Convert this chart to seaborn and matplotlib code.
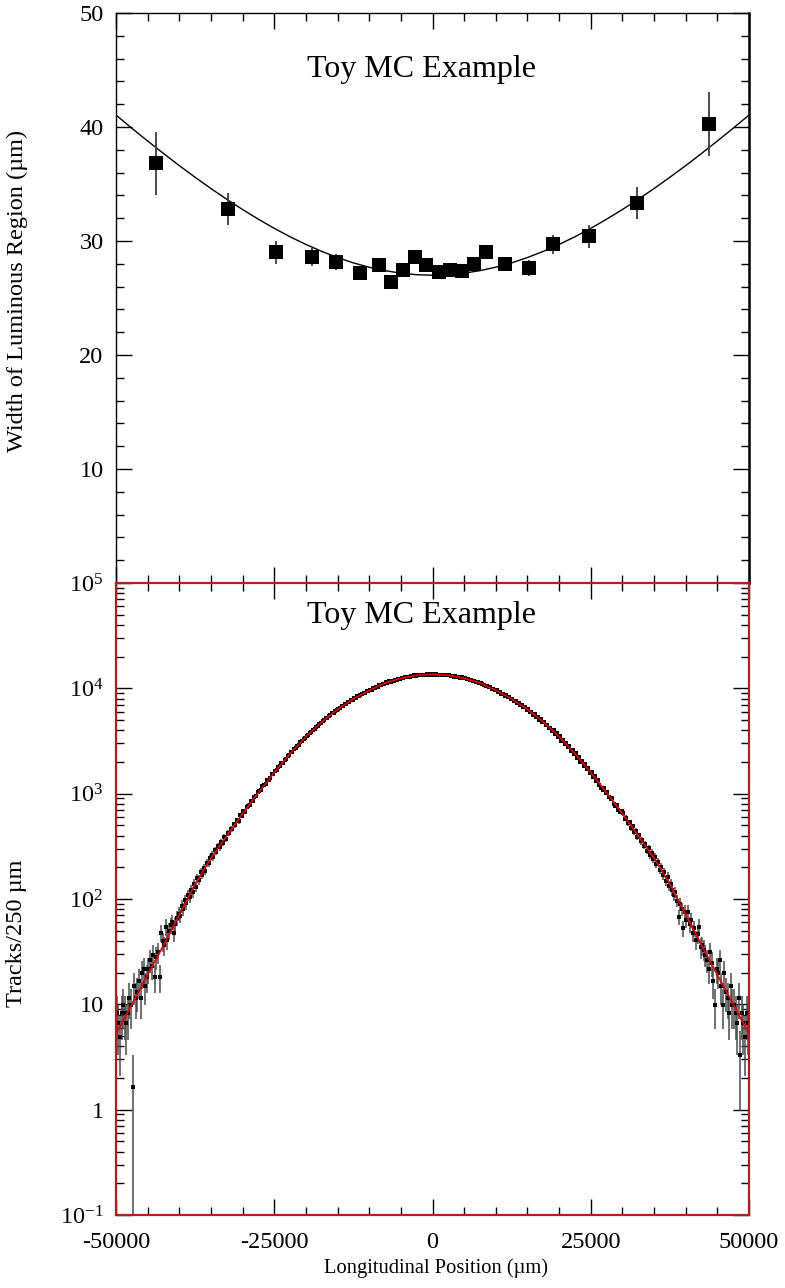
import numpy as np
import matplotlib
matplotlib.use("Agg")
import matplotlib.pyplot as plt
import seaborn as sns
from matplotlib.ticker import MultipleLocator, FixedLocator, LogLocator, NullFormatter, FuncFormatter

# ---------------- data ----------------
# width of the luminous region vs longitudinal position
width_x = [-43650, -32300, -24700, -19000, -15250, -11400, -8500, -6600, -4700, -2800, -950,
           950, 2800, 4700, 6600, 8500, 11400, 15250, 19000, 24700, 32300, 43650]
width_val = [36.8, 32.8, 29.0, 28.6, 28.2, 27.2, 27.9, 26.4, 27.5, 28.6, 27.9,
             27.3, 27.5, 27.4, 28.0, 29.0, 28.0, 27.6, 29.7, 30.4, 33.3, 40.3]
width_err = [2.8, 1.4, 1.0, 0.8, 0.7, 0.6, 0.5, 0.5, 0.5, 0.5, 0.5,
             0.5, 0.5, 0.5, 0.5, 0.5, 0.6, 0.7, 0.8, 1.0, 1.4, 2.8]

# fitted hourglass width, sampled every 2500 um from -50000 to 50000
width_fit = [41.05, 39.89, 38.77, 37.68, 36.61, 35.59, 34.60, 33.66, 32.76, 31.91,
             31.11, 30.37, 29.70, 29.09, 28.55, 28.08, 27.70, 27.40, 27.18, 27.04,
             27.00,
             27.04, 27.18, 27.40, 27.70, 28.08, 28.55, 29.09, 29.70, 30.37, 31.11,
             31.91, 32.76, 33.66, 34.60, 35.59, 36.61, 37.68, 38.77, 39.89, 41.05]

# track counts per 250 um bin, -50000 .. 50000 (400 bins)
counts = [
    8.25, 6.6, 4.95, 8.25, 9.9, 8.25, 6.6, 8.25, 11.55, 9.9,
    1.65, 14.85, 11.55, 13.2, 16.5, 11.55, 19.8, 21.45, 14.85, 18.15,
    21.45, 26.4, 23.1, 29.7, 18.15, 28.05, 31.35, 18.15, 47.85, 39.6,
    36.3, 54.45, 41.25, 49.5, 56.1, 61.05, 47.85, 57.75, 66.0, 72.6,
    69.3, 85.8, 80.85, 97.35, 90.75, 108.9, 104.0, 120.45, 115.5, 138.6,
    131, 158, 152, 181, 170, 197, 186, 222, 219, 246,
    262, 248, 289, 281, 318, 309, 347, 341, 385, 372,
    421, 419, 466, 458, 511, 503, 561, 548, 622, 617,
    682, 676, 751, 772, 781, 861, 858, 934, 941, 1027,
    1061, 1079, 1175, 1206, 1231, 1338, 1349, 1417, 1522, 1538,
    1652, 1671, 1781, 1815, 1949, 1968, 2102, 2141, 2287, 2331,
    2471, 2512, 2668, 2703, 2859, 2918, 3084, 3139, 3302, 3381,
    3561, 3612, 3794, 3851, 4052, 4118, 4311, 4389, 4603, 4684,
    4893, 4952, 5181, 5238, 5466, 5540, 5778, 5849, 6102, 6189,
    6431, 6488, 6742, 6801, 7063, 7118, 7392, 7451, 7735, 7809,
    8084, 8117, 8386, 8421, 8702, 8739, 9031, 9064, 9372, 9401,
    9702, 9734, 10028, 10046, 10351, 10372, 10698, 10711, 11047, 11068,
    11372, 11341, 11617, 11583, 11862, 11830, 12118, 12089, 12374, 12351,
    12611, 12537, 12772, 12694, 12931, 12862, 13105, 13031, 13279, 13198,
    13412, 13268, 13459, 13327, 13521, 13389, 13574, 13437, 13612, 13491,
    13633, 13479, 13584, 13411, 13522, 13367, 13469, 13298, 13421, 13262,
    13341, 13124, 13172, 12951, 13004, 12787, 12839, 12612, 12676, 12458,
    12489, 12218, 12236, 11958, 11984, 11702, 11738, 11451, 11497, 11214,
    11214, 10879, 10862, 10528, 10521, 10189, 10194, 9864, 9871, 9548,
    9547, 9208, 9207, 8871, 8879, 8541, 8562, 8231, 8258, 7928,
    7941, 7588, 7589, 7238, 7253, 6908, 6931, 6592, 6624, 6291,
    6314, 5962, 5981, 5634, 5667, 5322, 5369, 5031, 5086, 4757,
    4799, 4468, 4512, 4182, 4238, 3914, 3982, 3665, 3739, 3428,
    3491, 3193, 3247, 2962, 3021, 2746, 2812, 2549, 2618, 2361,
    2418, 2186, 2231, 2009, 2057, 1847, 1896, 1701, 1742, 1566,
    1602, 1437, 1468, 1318, 1341, 1197, 1131, 1089, 1127, 1012,
    1038, 921, 889, 902, 798, 771, 788, 702, 669, 684,
    651, 578, 593, 522, 538, 473, 489, 431, 445, 392,
    402, 353, 367, 318, 334, 288, 303, 262, 276, 239,
    251, 214, 226, 189, 203, 168, 181, 149, 163, 134,
    138.6, 122.1, 108.9, 117.15, 95.7, 67.65, 89.1, 80.85, 52.8, 75.9,
    62.7, 75.9, 57.75, 62.7, 47.85, 52.8, 41.25, 46.2, 54.45, 34.65,
    36.3, 33.0, 29.7, 26.4, 21.45, 31.35, 24.75, 16.5, 9.9, 21.45,
    19.8, 26.4, 14.85, 9.9, 19.8, 13.2, 11.55, 8.25, 14.85, 9.9,
    9.9, 8.25, 6.6, 11.55, 3.3, 8.25, 6.6, 4.95, 8.25, 6.6,
]

# fitted track density, sampled every 2500 um from -50000 to 50000
count_fit = [5.25, 10.0, 19.1, 36.3, 70.8, 138, 245, 398, 646, 1023,
             1585, 2400, 3470, 4790, 6310, 7940, 9550, 11220, 12470, 13300,
             13580,
             13300, 12470, 11220, 9550, 7940, 6310, 4790, 3470, 2400, 1585,
             1023, 646, 398, 245, 138, 70.8, 36.3, 19.1, 10.0, 5.25]

event_weight = 1.65          # weight carried by each toy track
bin_width = 250
x_lo, x_hi = -50000, 50000

bin_x = np.arange(x_lo + bin_width / 2, x_hi, bin_width)
fit_x = np.arange(x_lo, x_hi + 1, 2500)
counts = np.asarray(counts, dtype=float)
count_err = np.sqrt(event_weight * counts)

# ---------------- style ----------------
sns.set_theme(style="ticks")
plt.rcParams['font.family'] = ['Liberation Serif', 'DejaVu Serif']
plt.rcParams['mathtext.fontset'] = 'stix'
plt.rcParams['axes.unicode_minus'] = False
for key in ('text.color', 'axes.labelcolor', 'xtick.color', 'ytick.color',
            'xtick.labelcolor', 'ytick.labelcolor'):
    plt.rcParams[key] = 'black'

W, H = 785, 1288
fig = plt.figure(figsize=(W / 100, H / 100), dpi=100)
ax_top = fig.add_axes([116 / W, 1 - 583 / H, 633 / W, 570 / H])
ax_bot = fig.add_axes([116 / W, 1 - 1215 / H, 633 / W, 632 / H])
for ax in (ax_top, ax_bot):
    ax.set_facecolor('white')

TICK_FS = 17.5
FRAME_RED = '#b21e1e'

# ---------------- upper panel: width ----------------
sns.lineplot(x=fit_x, y=width_fit, ax=ax_top, color='black', linewidth=1.0, zorder=2)
ax_top.errorbar(width_x, width_val, yerr=width_err, fmt='none', ecolor='#3c3c3c',
                elinewidth=1.3, capsize=0, zorder=3)
sns.scatterplot(x=width_x, y=width_val, ax=ax_top, marker='s', s=88, color='black',
                edgecolor='black', linewidth=0, zorder=4)

ax_top.set_xlim(x_lo, x_hi)
ax_top.set_ylim(0, 50)
ax_top.xaxis.set_major_locator(FixedLocator([-50000, -25000, 0, 25000, 50000]))
ax_top.xaxis.set_minor_locator(MultipleLocator(5000))
ax_top.yaxis.set_major_locator(MultipleLocator(10))
ax_top.yaxis.set_minor_locator(MultipleLocator(2))
ax_top.yaxis.set_major_formatter(FuncFormatter(lambda v, p: '' if v == 0 else f'{v:.0f}'))
ax_top.tick_params(which='both', direction='in', top=True, right=True, bottom=True, left=True,
                   labelbottom=False, color='black', labelcolor='black', width=1.0,
                   labelsize=TICK_FS, pad=9)
ax_top.tick_params(which='major', length=11.5)
ax_top.tick_params(which='minor', length=5.8)
ax_top.set_xlabel('')
ax_top.set_ylabel('')
for side, sp in ax_top.spines.items():
    sp.set_color('black')
    sp.set_linewidth(1.0)
ax_top.spines['right'].set_linewidth(1.8)
ax_top.text(0.482, 0.9, 'Toy MC Example', transform=ax_top.transAxes,
            ha='center', va='center', fontsize=23, color='black')

# ---------------- lower panel: track density ----------------
ax_bot.set_yscale('log')
lo = np.clip(counts - count_err, 1e-3, None)
hi = counts + count_err
ax_bot.vlines(bin_x, lo, hi, color='#4a4a4a', linewidth=1.1, zorder=2)
sns.scatterplot(x=bin_x, y=counts, ax=ax_bot, marker='s', s=7, color='black',
                edgecolor='black', linewidth=0, zorder=3)
sns.lineplot(x=fit_x, y=count_fit, ax=ax_bot, color='#e00000', linewidth=1.3, zorder=4)

ax_bot.set_xlim(x_lo, x_hi)
ax_bot.set_ylim(0.1, 1e5)
ax_bot.xaxis.set_major_locator(FixedLocator([-50000, -25000, 0, 25000, 50000]))
ax_bot.xaxis.set_minor_locator(MultipleLocator(5000))
ax_bot.yaxis.set_major_locator(LogLocator(base=10, numticks=10))
ax_bot.yaxis.set_minor_locator(LogLocator(base=10, subs=np.arange(2, 10), numticks=20))
ax_bot.yaxis.set_minor_formatter(NullFormatter())


def log_label(v, pos):
    e = int(round(np.log10(v)))
    if e == 0:
        return '1'
    if e == 1:
        return '10'
    return r'$\mathregular{10^{%d}}$' % e


ax_bot.yaxis.set_major_formatter(FuncFormatter(log_label))
ax_bot.xaxis.set_major_formatter(FuncFormatter(lambda v, p: f'{v:.0f}'))
ax_bot.tick_params(which='both', direction='in', top=True, right=True, bottom=True, left=True,
                   color='black', labelcolor='black', width=1.0, labelsize=TICK_FS)
ax_bot.tick_params(axis='y', pad=9)
ax_bot.tick_params(axis='x', pad=12)
ax_bot.tick_params(which='major', length=11.5)
ax_bot.tick_params(which='minor', length=5.8)
ax_bot.set_xlabel('')
ax_bot.set_ylabel('')
for sp in ax_bot.spines.values():
    sp.set_color(FRAME_RED)
    sp.set_linewidth(1.6)
    sp.set_zorder(5)
ax_bot.text(0.482, 0.949, 'Toy MC Example', transform=ax_bot.transAxes,
            ha='center', va='center', fontsize=23, color='black')

# ---------------- axis titles ----------------
fig.text(17 / W, 1 - 291 / H, 'Width of Luminous Region (\u00b5m)', rotation=90,
         ha='center', va='center', fontsize=17.5, color='black')
fig.text(17 / W, 1 - 933 / H, 'Tracks/250 \u00b5m', rotation=90,
         ha='center', va='center', fontsize=17.5, color='black')
fig.text(436 / W, 1 - 1268 / H, 'Longitudinal Position (\u00b5m)',
         ha='center', va='center', fontsize=14.8, color='black')

fig.savefig('out.png', dpi=100, facecolor='white')
